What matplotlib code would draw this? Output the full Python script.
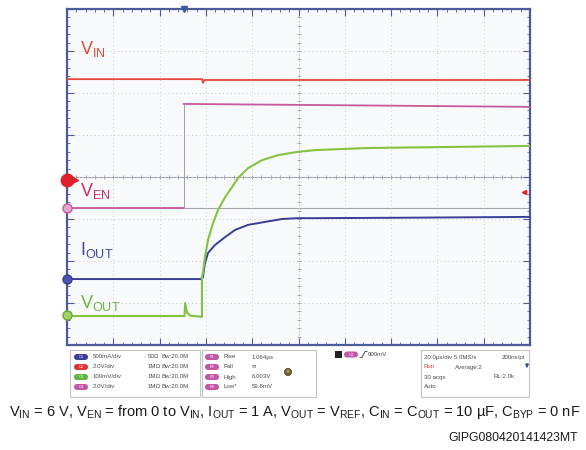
import numpy as np
import matplotlib.pyplot as plt
from matplotlib.patches import Rectangle, FancyBboxPatch, Circle

plt.rcParams['font.family'] = ['Liberation Sans', 'DejaVu Sans']
plt.rcParams['mathtext.fontset'] = 'custom'
plt.rcParams['mathtext.rm'] = 'Liberation Sans'
plt.rcParams['mathtext.it'] = 'Liberation Sans:italic'

W, H = 586, 450

# time in us (20 us/div), trace levels in screen divisions (8 div high)
t_vin = [0, 58.4, 58.7, 59.4, 200]
v_vin = [6.33, 6.33, 6.24, 6.31, 6.31]

t_en = [0, 50.5, 50.5, 200]
v_en = [3.26, 3.26, 5.74, 5.67]

t_out = [0, 50.8, 51.0, 51.8, 53.1, 58.3, 58.3, 58.7, 59.6, 60.9, 63.1, 65.2, 68.3,
         71.3, 73.9, 78.2, 84.2, 91.1, 99.8, 107.1, 129.6, 158.1, 200]
v_out = [0.69, 0.69, 1.00, 0.78, 0.70, 0.67, 1.62, 1.71, 2.10, 2.50, 2.90, 3.21, 3.52,
         3.76, 3.98, 4.21, 4.40, 4.52, 4.60, 4.64, 4.69, 4.71, 4.74]

t_io = [0, 58.3, 58.7, 59.6, 60.9, 63.9, 68.3, 72.6, 78.2, 85.5, 92.9, 99.8, 107.1, 143.8, 200]
v_io = [1.57, 1.57, 1.62, 1.95, 2.19, 2.38, 2.57, 2.74, 2.86, 2.93, 3.00, 3.02, 3.02, 3.03, 3.05]

# channel ground markers on the left edge
gnd_levels = {'vin': 3.93, 'en': 3.26, 'io': 1.57, 'out': 0.72}
trig_time = 50.5
trig_level = 3.64

c_vin = '#e5473a'
c_en = '#c65a9c'
c_io = '#3b3d96'
c_out = '#84c341'
c_frame = '#4d5c99'

ch_scales = ['500mA/div', '2.0V/div', '100mV/div', '2.0V/div']
ch_imped = ['50Ω', '1MΩ', '1MΩ', '1MΩ']
ch_colors = [c_io, '#e03333', '#5fb33f', '#c456a8']
meas_names = ['Rise', 'Fall', 'High', 'Low*']
meas_values = ['1.064µs', '∞', '6.003V', '59.8mV']


def fx(x):
    return x / W


def fy(y):
    return 1 - y / H


fig = plt.figure(figsize=(W / 100, H / 100), dpi=100)
fig.patch.set_facecolor('white')

ax = fig.add_axes([fx(67), fy(345), (530 - 67) / W, (345 - 9) / H])
ax.set_facecolor('#f8f9fb')
ax.set_xlim(0, 200)
ax.set_ylim(0, 8)
ax.set_xticks(np.arange(0, 201, 20))
ax.set_xticks(np.arange(0, 201, 4), minor=True)
ax.set_yticks(np.arange(0, 8.1, 1))
ax.set_yticks(np.arange(0, 8.01, 0.2), minor=True)
ax.tick_params(which='both', direction='in', top=True, right=True,
               labelbottom=False, labelleft=False, color=c_frame)
ax.tick_params(which='major', length=5, width=0.8)
ax.tick_params(which='minor', length=2.5, width=0.6)
ax.grid(which='major', color='#c9cdd8', ls=(0, (1, 3)), lw=0.7)
for s in ax.spines.values():
    s.set_color(c_frame)
    s.set_linewidth(1.6)

# centre crosshair with its little ticks
ax.axhline(4, color='#9fa2ad', lw=0.8, zorder=1)
ax.axvline(100, color='#b5b9c6', ls=(0, (1, 2)), lw=0.8, zorder=1)
xm = np.arange(0, 201, 4)
ym = np.arange(0, 8.01, 0.2)
ax.plot(xm, np.full_like(xm, 4.0, dtype=float), ls='none', marker='|', ms=3,
        mew=0.6, color='#9fa2ad')
ax.plot(np.full_like(ym, 100.0), ym, ls='none', marker='_', ms=3, mew=0.6,
        color='#9fa2ad')
ax.axhline(gnd_levels['en'], color='#a5a6ae', lw=0.8, zorder=1)

# traces
ax.plot(t_vin, v_vin, color=c_vin, lw=1.3, zorder=3)
ax.plot(t_en[:2], v_en[:2], color=c_en, lw=1.3, zorder=3)
ax.plot(t_en[1:3], v_en[1:3], color='#a99aa8', lw=0.7, zorder=3)
ax.plot(t_en[2:], v_en[2:], color=c_en, lw=1.3, zorder=3)
ax.plot(t_io, v_io, color=c_io, lw=1.4, zorder=4)
ax.plot(t_out, v_out, color=c_out, lw=1.5, zorder=5)

# ground markers
ax.plot(0, gnd_levels['vin'], marker='o', ms=9, color='#e0202a', clip_on=False, zorder=6)
ax.plot(3.5, gnd_levels['vin'], marker='>', ms=5, color='#e0202a', clip_on=False, zorder=6)
ax.plot(0, gnd_levels['en'], marker='o', ms=6.5, mfc='#e7a4cf', mec='#c65a9c',
        mew=1, clip_on=False, zorder=6)
ax.plot(0, gnd_levels['io'], marker='o', ms=6.5, mfc='#4e52b0', mec=c_io,
        clip_on=False, zorder=6)
ax.plot(0, gnd_levels['out'], marker='o', ms=6.5, mfc='#9fd46a', mec='#6aa533',
        clip_on=False, zorder=6)
ax.plot(trig_time, 8, marker='v', ms=5, color='#3d5aa0', clip_on=False, zorder=6)
ax.plot(197.5, trig_level, marker='<', ms=3, color='#e0202a', zorder=6)

# trace names
ax.text(5.5, 6.94, r'$\mathrm{V_{IN}}$', color='#e04a38', fontsize=13, va='baseline')
ax.text(5.5, 3.55, r'$\mathrm{V_{EN}}$', color='#cc2b6b', fontsize=13, va='baseline')
ax.text(5.5, 2.14, r'$\mathrm{I_{OUT}}$', color='#3c4aa2', fontsize=13, va='baseline')
ax.text(5.5, 0.88, r'$\mathrm{V_{OUT}}$', color='#6cb53d', fontsize=13, va='baseline')

# status panels below the screen, drawn in pixel units
ov = fig.add_axes([0, 0, 1, 1])
ov.set_xlim(0, W)
ov.set_ylim(H, 0)
ov.axis('off')
ov.patch.set_alpha(0)

for x0, x1 in [(70, 200), (202, 316), (421, 529)]:
    ov.add_patch(Rectangle((x0, 350), x1 - x0, 47, fc='white', ec='#c4c4c4', lw=0.8))

small = 4.4
tc = '#4a4a4a'
rows = [357, 367, 377, 387]


def pill(x, y, color, label):
    ov.add_patch(FancyBboxPatch((x, y - 3), 14, 6,
                                boxstyle='round,pad=0,rounding_size=3',
                                fc=color, ec='none'))
    ov.text(x + 7, y, label, fontsize=2.8, color='white', ha='center', va='center')


for i, y in enumerate(rows):
    pill(74, y, ch_colors[i], 'C%d' % (i + 1))
    ov.text(93, y, ch_scales[i], fontsize=small, color=tc, va='center')
    ov.text(148, y, ch_imped[i], fontsize=small, color=tc, va='center')
    ov.text(162, y, 'Bw:20.0M', fontsize=small, color=tc, va='center')

    pill(205, y, '#c456a8', 'P%d' % (i + 1))
    ov.text(223, y, meas_names[i], fontsize=small, color=tc, va='center')
    ov.text(252, y, meas_values[i], fontsize=small, color=tc, va='center')

ov.add_patch(Circle((288, 372), 3.6, fc='#6e6232', ec='#4a4020', lw=0.5))
ov.add_patch(Circle((288, 371.2), 1.6, fc='#a89a5a', ec='none'))

# trigger readout
ov.add_patch(Rectangle((335, 351), 7, 7, fc='#222222', ec='none'))
pill(344, 354.5, '#c456a8', 'C4')
ov.plot([360, 362, 365, 367], [357.5, 357.5, 351.5, 351.5], color='#333333', lw=0.6)
ov.text(368, 354.5, '900mV', fontsize=small, color=tc, va='center')

# acquisition readout
ov.text(424, rows[0], '20.0µs/div 5.0MS/s', fontsize=small, color=tc, va='center')
ov.text(525, rows[0], '200ns/pt', fontsize=small, color=tc, va='center', ha='right')
ov.text(424, rows[1], 'Run', fontsize=small, color='#d04040', va='center')
ov.text(455, rows[1], 'Average:2', fontsize=small, color=tc, va='center')
ov.annotate('', xy=(527, 371), xytext=(527, 362),
            arrowprops=dict(arrowstyle='-|>', color='#3050a0', lw=1.2, mutation_scale=4))
ov.text(424, rows[2], '30 acqs', fontsize=small, color=tc, va='center')
ov.text(515, rows[2], 'RL:2.0k', fontsize=small, color=tc, va='center', ha='right')
ov.text(424, rows[3], 'Auto', fontsize=small, color=tc, va='center')

caption = (r'$\mathrm{V_{IN}}$ = 6 V, $\mathrm{V_{EN}}$ = from 0 to $\mathrm{V_{IN}}$, '
           r'$\mathrm{I_{OUT}}$ = 1 A, $\mathrm{V_{OUT}}$ = $\mathrm{V_{REF}}$, '
           r'$\mathrm{C_{IN}}$ = $\mathrm{C_{OUT}}$ = 10 µF, $\mathrm{C_{BYP}}$ = 0 nF')
ov.text(9, 412, caption, fontsize=10.55, color='#1a1a1a', va='center', ha='left')
ov.text(578, 438, 'GIPG080420141423MT', fontsize=8.8, color='#1a1a1a', va='center', ha='right')

fig.savefig('out.png', dpi=100)
